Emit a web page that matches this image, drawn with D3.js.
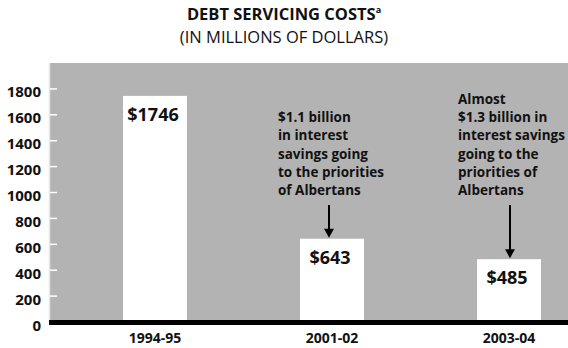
<!DOCTYPE html>
<html>
<head>
<meta charset="utf-8">
<script src="https://cdn.jsdelivr.net/npm/d3@7"></script>
<style>
	body { margin: 0; background: #fff; }
	text { font-family: "Open Sans", "Noto Sans", sans-serif; }
</style>
</head>
<body>
<div id="chart"></div>
<script>
// donnees du graphique
var categories = ["1994-95", "2001-02", "2003-04"];
var values = [1746, 643, 485];
var valueLabels = ["$1746", "$643", "$485"];
var yTicks = [0, 200, 400, 600, 800, 1000, 1200, 1400, 1600, 1800];
var notes = [
	[],
	["$1.1 billion", "in interest", "savings going", "to the priorities", "of Albertans"],
	["Almost", "$1.3 billion in", "interest savings", "going to the", "priorities of", "Albertans"]
];

var width = 568
var height = 348
var barW = 64

var svg = d3.select("#chart").append("svg")
	.attr("width", width)
	.attr("height", height);

// echelles
var x = d3.scalePoint()
	.domain(categories)
	.range([155, 509]);

var y = d3.scaleLinear()
	.domain([0, 2000])
	.range([322, 63]);

// titre
var title = svg.append("text")
	.attr("x", width / 2)
	.attr("y", 20)
	.attr("text-anchor", "middle")
	.attr("font-size", "16.5px")
	.attr("font-weight", "bold")
	.attr("fill", "#111");
title.append("tspan").text("DEBT SERVICING COSTS");
title.append("tspan").text("a")
	.attr("font-size", "9px")
	.attr("dy", "-7");

svg.append("text")
	.attr("x", width / 2)
	.attr("y", 43)
	.attr("text-anchor", "middle")
	.attr("font-size", "16.5px")
	.attr("fill", "#111")
	.text("(IN MILLIONS OF DOLLARS)");

// fond gris
svg.append("rect")
	.attr("x", 50)
	.attr("y", y(2000))
	.attr("width", width - 50)
	.attr("height", y(0) - y(2000))
	.attr("fill", "#b3b3b3");

// axe vertical clair
svg.append("line")
	.attr("x1", 49.5).attr("x2", 49.5)
	.attr("y1", y(2000)).attr("y2", y(0))
	.attr("stroke", "#e6e6e6")
	.attr("stroke-width", 1.5);

// graduations
svg.selectAll(".tick")
	.data(yTicks.filter(d => d > 0))
	.enter()
	.append("line")
	.attr("class", "tick")
	.attr("x1", 50).attr("x2", 57)
	.attr("y1", d => y(d)).attr("y2", d => y(d))
	.attr("stroke", "#fff")
	.attr("stroke-width", 1.5);

svg.selectAll(".ylab")
	.data(yTicks)
	.enter()
	.append("text")
	.attr("class", "ylab")
	.attr("x", 41)
	.attr("y", d => y(d) + 8.5)
	.attr("text-anchor", "end")
	.attr("font-size", "15px")
	.attr("font-weight", "bold")
	.attr("fill", "#111")
	.text(d => d);

// barres
svg.selectAll(".bar")
	.data(values)
	.enter()
	.append("rect")
	.attr("class", "bar")
	.attr("x", (d, i) => x(categories[i]) - barW / 2)
	.attr("y", d => y(d))
	.attr("width", barW)
	.attr("height", d => y(0) - y(d))
	.attr("fill", "#fff");

// ligne de base noire
svg.append("rect")
	.attr("x", 49)
	.attr("y", y(0) - 2)
	.attr("width", width - 49)
	.attr("height", 5)
	.attr("fill", "#000");

// valeurs dans les barres
svg.selectAll(".val")
	.data(values)
	.enter()
	.append("text")
	.attr("class", "val")
	.attr("x", (d, i) => x(categories[i]) - 2)
	.attr("y", d => y(d) + 25)
	.attr("text-anchor", "middle")
	.attr("font-size", "18px")
	.attr("font-weight", "bold")
	.attr("fill", "#111")
	.text((d, i) => valueLabels[i]);

// etiquettes des annees
svg.selectAll(".xlab")
	.data(categories)
	.enter()
	.append("text")
	.attr("class", "xlab")
	.attr("x", d => x(d))
	.attr("y", 343)
	.attr("text-anchor", "middle")
	.attr("font-size", "14px")
	.attr("font-weight", "bold")
	.attr("fill", "#111")
	.text(d => d);

// annotations + fleches
var noteDx = [0, -54, -51];
var arrowDx = [0, -3, 1];
var lineH = 18.2;

notes.forEach(function (lines, i) {
	if (!lines.length) return;
	var cx = x(categories[i]);
	var t = svg.append("text")
		.attr("font-size", "13.5px")
		.attr("font-weight", "bold")
		.attr("fill", "#111");
	lines.forEach(function (l, j) {
		t.append("tspan")
			.attr("x", cx + noteDx[i])
			.attr("y", 195 - (lines.length - 1 - j) * lineH)
			.text(l);
	});

	var ax = cx + arrowDx[i];
	var tip = y(values[i]) - 1;
	svg.append("line")
		.attr("x1", ax).attr("x2", ax)
		.attr("y1", 205).attr("y2", tip - 6)
		.attr("stroke", "#000")
		.attr("stroke-width", 2);
	svg.append("path")
		.attr("d", "M" + (ax - 5) + "," + (tip - 9) + "L" + (ax + 5) + "," + (tip - 9) + "L" + ax + "," + tip + "Z")
		.attr("fill", "#000");
});
</script>
</body>
</html>
